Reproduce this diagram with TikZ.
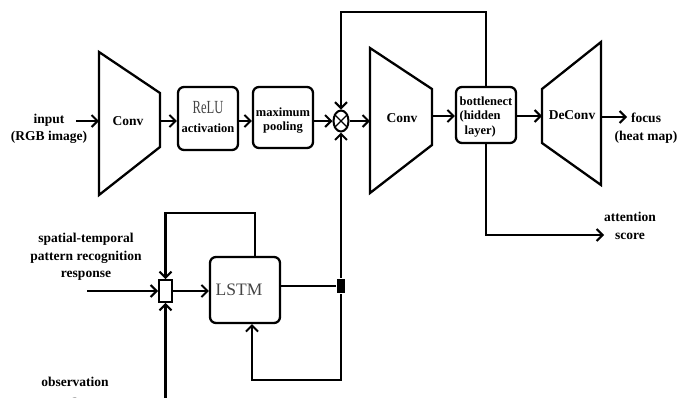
\documentclass[tikz,border=0pt]{standalone}
\usepackage{fontspec}
\usepackage{graphicx}
\setmainfont{Liberation Serif}
\usetikzlibrary{arrows.meta,shapes.geometric}
\definecolor{txtgray}{HTML}{444444}
\begin{document}
\begin{tikzpicture}[x=1pt,y=-1pt,
  line width=2.1pt,
  arr/.style={-{Straight Barb[length=6pt,width=12pt,line width=2pt]}},
  lbl/.style={font=\fontsize{13.5}{17.5}\selectfont\bfseries, align=center, inner sep=0pt},
  boxtxt/.style={font=\fontsize{12.5}{14}\selectfont\bfseries, inner sep=0pt},
  rbox/.style={draw, rounded corners=6pt, line width=2.3pt, inner sep=0pt},
  trap/.style={draw, line width=2.3pt, line join=miter}]
\useasboundingbox (0,0) rectangle (691,397);
\clip (0,0) rectangle (691,397);

% ---- top row ----
\node[lbl] (inlbl) at (49,129) {input\\(RGB image)};
\coordinate (inA) at (76,121);

\draw[trap] (99,52) -- (160,93) -- (160,147) -- (99,195) -- cycle;
\node[lbl] (conv1) at (128,121) {Conv};
\coordinate (c1w) at (99,121);
\coordinate (c1e) at (160,121);

\node[rbox, minimum width=60pt, minimum height=63pt] (relu) at (208,118.5) {};
\node[inner sep=0pt, text=txtgray] (relut) at (208,108) {\scalebox{0.68}[1]{\fontsize{18.5}{18}\selectfont ReLU}};
\node[boxtxt] (reluact) at (208,128) {activation};

\node[rbox, minimum width=60pt, minimum height=61pt] (pool) at (283,117.5) {};
\node[boxtxt] (poolt1) at (283,112) {maximum};
\node[boxtxt] (poolt2) at (283,128) {pooling};

\node[draw, ellipse, minimum width=15pt, minimum height=21pt, inner sep=0pt, line width=2pt] (mul) at (341,121) {};
\draw[line width=1.3pt] (mul.45) -- (mul.225) (mul.135) -- (mul.315);

\draw[trap] (370,48) -- (432,89) -- (432,145) -- (370,193) -- cycle;
\node[lbl] (conv2) at (402,118) {Conv};
\coordinate (c2w) at (370,121);
\coordinate (c2e) at (432,116);

\node[rbox, minimum width=60pt, minimum height=56pt] (bneck) at (486,115) {};
\node[boxtxt, align=left, font=\fontsize{12.5}{14.5}\selectfont\bfseries] (bnt) at (486,117) {bottlenect\\(hidden\\\hspace*{5pt}layer)};

\draw[trap] (542,89) -- (601,42) -- (601,185) -- (542,143) -- cycle;
\node[lbl] (deconv) at (572,115) {DeConv};
\coordinate (dcw) at (542,116);
\coordinate (dce) at (601,117);
\coordinate (focA) at (627,117);
\node[lbl] (foclbl) at (646,128) {focus\\(heat map)};

\draw[arr] (inA) -- (c1w);
\draw[arr] (c1e) -- (relu.west |- c1e);
\draw[arr] (relu.east |- c1e) -- (pool.west |- c1e);
\draw[arr] (pool.east |- c1e) -- (mul.west);
\draw[arr] (mul.east) -- (c2w);
\draw[arr] (c2e) -- (bneck.west |- c2e);
\draw[arr] (bneck.east |- c2e) -- (dcw);
\draw[arr] (dce) -- (focA);

% feedback over the top
\coordinate (topL) at (341,12);
\draw[arr] (bneck.north) |- (topL) -- (mul.north);

% attention score
\coordinate (attn) at (604,235);
\draw[arr] (bneck.south) |- (attn);
\node[lbl] (attlbl) at (630,226) {attention\\score};

% ---- bottom part ----
\node[rbox, minimum width=70pt, minimum height=66pt] (lstm) at (245,290) {};
\node[inner sep=0pt, text=txtgray, font=\fontsize{17.5}{17}\selectfont] (lstmt) at (239,290) {LSTM};

\node[draw, minimum width=13pt, minimum height=22pt, inner sep=0pt, line width=1.9pt] (sq) at (165.5,291) {};

\node[fill=black, minimum width=8pt, minimum height=14pt, inner sep=0pt] (jn) at (341,286) {};

\node[lbl] (splbl) at (86,257) {spatial-temporal\\pattern recognition\\response};
\coordinate (spA) at (87,291);
\draw[arr] (spA) -- (sq.west);
\draw[arr] (sq.east) -- (lstm.west |- sq.east);

\coordinate (lt) at (255,213);
\draw[arr] (lt |- lstm.north) -- (lt) -| (sq.north);

\coordinate (obsA) at (165.5,400);
\draw[arr] (obsA) -- (sq.south);
\node[lbl] (obslbl) at (75,391) {observation\\a};

\draw (lstm.east |- jn) -- (jn);
\draw[arr] (jn) -- (mul.south);
\coordinate (lb) at (252,380);
\draw[arr] (jn) |- (lb) -- (lb |- lstm.south);
\end{tikzpicture}
\end{document}
